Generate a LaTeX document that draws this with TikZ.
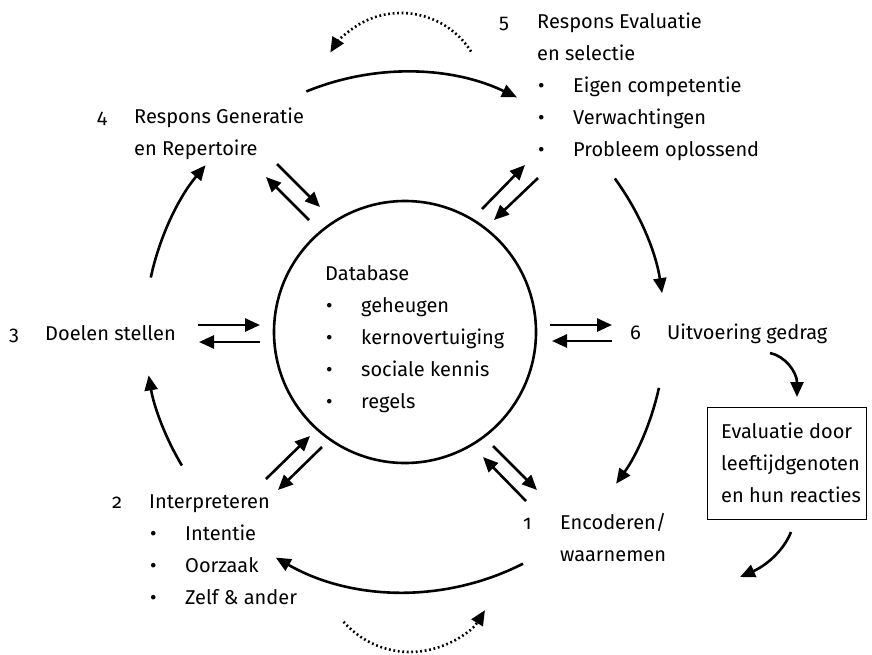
\documentclass[tikz,border=0pt]{standalone}
\usepackage{fontspec}
\setmainfont{Fira Sans}[Numbers=OldStyle]
\usetikzlibrary{arrows.meta,calc}
\newcommand{\bitem}[1]{\hspace*{1pt}\makebox[35pt][l]{\textbullet}#1}
\tikzset{
  lbl/.style={inner sep=0pt, anchor=base west, align=left, font=\fontsize{20}{32}\selectfont},
  flow/.style={line width=2.6pt, -{Triangle[length=15pt,width=13pt]}},
  dotflow/.style={flow, dash pattern=on 1.8pt off 2.7pt},
  framebox/.style={draw, line width=1.3pt, inner sep=0pt, anchor=north west, minimum width=159pt, minimum height=112pt},
}
\begin{document}
\begin{tikzpicture}[x=1pt,y=-1pt]
\useasboundingbox (0,0) rectangle (872,654);
% central circle
\coordinate (c) at (405,332);
\node[draw, circle, line width=2.6pt, minimum size=262pt, inner sep=0pt] (db) at (c) {};
% multi-line labels are placed by the baseline of their last line
\node[lbl] (dbtxt) at (325,408) {Database\\\bitem{geheugen}\\\bitem{kernovertuiging}\\\bitem{sociale kennis}\\\bitem{regels}};
% stage labels
\node[lbl] (n5) at (499,28) {5};
\node[lbl] (s5) at (537,156) {Respons Evaluatie\\en selectie\\\bitem{Eigen competentie}\\\bitem{Verwachtingen}\\\bitem{Probleem oplossend}};
\node[lbl] (n4) at (97,123) {4};
\node[lbl] (s4) at (134,155) {Respons Generatie\\en Repertoire};
\node[lbl] (n3) at (9,340) {3};
\node[lbl] (s3) at (45,340) {Doelen stellen};
\node[lbl] (n6) at (630,339) {6};
\node[lbl] (s6) at (667,339) {Uitvoering gedrag};
\node[lbl] (n2) at (112,508) {2};
\node[lbl] (s2) at (149,604) {Interpreteren\\\bitem{Intentie}\\\bitem{Oorzaak}\\\bitem{Zelf \& ander}};
\node[lbl] (n1) at (523,529) {1};
\node[lbl] (s1) at (560,561) {Encoderen/\\waarnemen};
% evaluation box
\node[framebox] (evbox) at (707,407) {};
\node[lbl] (evtxt) at (721,502) {Evaluatie door\\leeftijdgenoten\\en hun reacties};
% outer cycle arcs (radius 260 around c)
\coordinate (a45) at ($(c)+(-112.3:260)$);
\coordinate (a56) at ($(c)+(-36.2:260)$);
\coordinate (a61) at ($(c)+(12.4:260)$);
\coordinate (a12) at ($(c)+(63.0:260)$);
\coordinate (a23) at ($(c)+(149.1:260)$);
\coordinate (a34) at ($(c)+(192.1:260)$);
\draw[flow] (a45) arc[start angle=-112.3, end angle=-64.5, radius=260];
\draw[flow] (a56) arc[start angle=-36.2, end angle=-8.6, radius=260];
\draw[flow] (a61) arc[start angle=12.4, end angle=35.7, radius=260];
\draw[flow] (a12) arc[start angle=63.0, end angle=119.8, radius=260];
\draw[flow] (a23) arc[start angle=149.1, end angle=170.4, radius=260];
\draw[flow] (a34) arc[start angle=192.1, end angle=219.9, radius=260];
% dotted feedback arcs
\coordinate (tdc) at (401,96);
\coordinate (td) at ($(tdc)+(-32.4:83)$);
\draw[dotflow] (td) arc[start angle=-32.4, end angle=-148.4, radius=83];
\coordinate (bdc) at (410,564);
\coordinate (bd) at ($(bdc)+(139:88)$);
\draw[dotflow] (bd) arc[start angle=139, end angle=31.6, radius=88];
% double arrows with the database
\coordinate (p3a) at (198,325); \coordinate (q3a) at (260,325);
\coordinate (p3b) at (260,342); \coordinate (q3b) at (199,342);
\draw[flow] (p3a) -- (q3a); \draw[flow] (p3b) -- (q3b);
\coordinate (p6a) at (550,325); \coordinate (q6a) at (612,325);
\coordinate (p6b) at (612,341); \coordinate (q6b) at (552,341);
\draw[flow] (p6a) -- (q6a); \draw[flow] (p6b) -- (q6b);
\coordinate (p4a) at (277,164); \coordinate (q4a) at (320,207);
\coordinate (p4b) at (309,220); \coordinate (q4b) at (266,177);
\draw[flow] (p4a) -- (q4a); \draw[flow] (p4b) -- (q4b);
\coordinate (p5a) at (482,209); \coordinate (q5a) at (525,165);
\coordinate (p5b) at (538,178); \coordinate (q5b) at (494,220);
\draw[flow] (p5a) -- (q5a); \draw[flow] (p5b) -- (q5b);
\coordinate (p2a) at (266,479); \coordinate (q2a) at (310,436);
\coordinate (p2b) at (322,447); \coordinate (q2b) at (278,490);
\draw[flow] (p2a) -- (q2a); \draw[flow] (p2b) -- (q2b);
\coordinate (p1a) at (493,446); \coordinate (q1a) at (537,490);
\coordinate (p1b) at (526,501); \coordinate (q1b) at (483,457);
\draw[flow] (p1a) -- (q1a); \draw[flow] (p1b) -- (q1b);
% arrows to and from the evaluation box
\coordinate (ev1) at (770,353); \coordinate (ev2) at (797,397);
\draw[flow] (ev1) .. controls (785,356) and (797,372) .. (ev2);
\coordinate (ev3) at (791,532); \coordinate (ev4) at (740,577);
\draw[flow] (ev3) .. controls (783,552) and (765,566) .. (ev4);
\end{tikzpicture}
\end{document}
